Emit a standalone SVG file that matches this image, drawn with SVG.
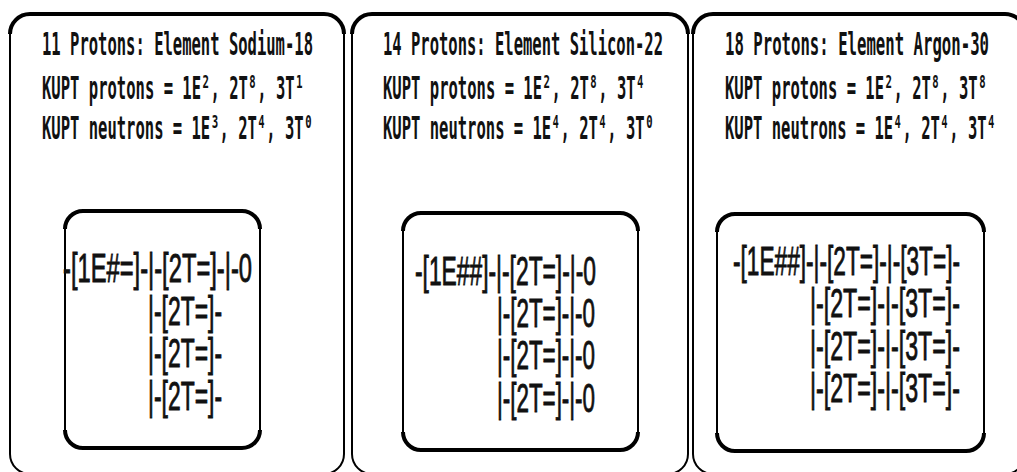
<svg xmlns="http://www.w3.org/2000/svg" width="1017" height="472" viewBox="0 0 1017 472">
<style>
.panel{fill:#fff;stroke:#000;stroke-width:2}
.toplip{fill:none;stroke:#000;stroke-width:4}
.box{fill:#fff;stroke:#000;stroke-width:2}
.boxedge{fill:none;stroke:#000;stroke-width:4}
.hdr{font-family:"DejaVu Sans Mono","Liberation Mono",monospace;font-size:32px;font-weight:bold;fill:#111}
.row{font-family:"Liberation Sans",Arial,sans-serif;font-size:40px;fill:#111;stroke:#111;stroke-width:0.9}
</style>
<rect width="1017" height="472" fill="#fff"/>
<g id="connectors"/>
<g id="panel-sodium">
<rect class="panel" x="10" y="14" width="334" height="460" rx="20"/>
<path class="toplip" d="M10,34 A20,20 0 0 1 30,14 H324 A20,20 0 0 1 344,34"/>
<text class="hdr" x="42" y="55" textLength="271" lengthAdjust="spacingAndGlyphs">11 Protons: Element Sodium-18</text>
<text class="hdr" x="42" y="99" textLength="262" lengthAdjust="spacingAndGlyphs">KUPT protons = 1E², 2T⁸, 3T¹</text>
<text class="hdr" x="42" y="139" textLength="271" lengthAdjust="spacingAndGlyphs">KUPT neutrons = 1E³, 2T⁴, 3T⁰</text>
<rect class="box" x="65" y="211" width="195" height="237" rx="18"/>
<path class="boxedge" d="M65,229 A18,18 0 0 1 83,211 H242 A18,18 0 0 1 260,229 M65,430 A18,18 0 0 0 83,448 H242 A18,18 0 0 0 260,430"/>
<text class="row" x="63" y="282" textLength="189" lengthAdjust="spacingAndGlyphs">-[1E#=]-|-[2T=]-|-0</text>
<text class="row" x="148" y="325" textLength="74" lengthAdjust="spacingAndGlyphs">|-[2T=]-</text>
<text class="row" x="148" y="367" textLength="74" lengthAdjust="spacingAndGlyphs">|-[2T=]-</text>
<text class="row" x="148" y="410" textLength="74" lengthAdjust="spacingAndGlyphs">|-[2T=]-</text>
</g>
<g id="panel-silicon">
<rect class="panel" x="352" y="14" width="336" height="460" rx="20"/>
<path class="toplip" d="M352,34 A20,20 0 0 1 372,14 H668 A20,20 0 0 1 688,34"/>
<text class="hdr" x="383" y="55" textLength="280" lengthAdjust="spacingAndGlyphs">14 Protons: Element Silicon-22</text>
<text class="hdr" x="383" y="99" textLength="262" lengthAdjust="spacingAndGlyphs">KUPT protons = 1E², 2T⁸, 3T⁴</text>
<text class="hdr" x="383" y="139" textLength="271" lengthAdjust="spacingAndGlyphs">KUPT neutrons = 1E⁴, 2T⁴, 3T⁰</text>
<rect class="box" x="403" y="213" width="235" height="237" rx="18"/>
<path class="boxedge" d="M403,231 A18,18 0 0 1 421,213 H620 A18,18 0 0 1 638,231 M403,432 A18,18 0 0 0 421,450 H620 A18,18 0 0 0 638,432"/>
<text class="row" x="415" y="285" textLength="181" lengthAdjust="spacingAndGlyphs">-[1E##]-|-[2T=]-|-0</text>
<text class="row" x="497" y="327" textLength="98" lengthAdjust="spacingAndGlyphs">|-[2T=]-|-0</text>
<text class="row" x="497" y="369" textLength="98" lengthAdjust="spacingAndGlyphs">|-[2T=]-|-0</text>
<text class="row" x="497" y="412" textLength="98" lengthAdjust="spacingAndGlyphs">|-[2T=]-|-0</text>
</g>
<g id="panel-argon">
<rect class="panel" x="693" y="14" width="332" height="460" rx="20"/>
<path class="toplip" d="M693,34 A20,20 0 0 1 713,14 H1005 A20,20 0 0 1 1025,34"/>
<text class="hdr" x="725" y="55" textLength="264" lengthAdjust="spacingAndGlyphs">18 Protons: Element Argon-30</text>
<text class="hdr" x="725" y="99" textLength="262" lengthAdjust="spacingAndGlyphs">KUPT protons = 1E², 2T⁸, 3T⁸</text>
<text class="hdr" x="725" y="139" textLength="271" lengthAdjust="spacingAndGlyphs">KUPT neutrons = 1E⁴, 2T⁴, 3T⁴</text>
<rect class="box" x="717" y="214" width="267" height="237" rx="18"/>
<path class="boxedge" d="M717,232 A18,18 0 0 1 735,214 H966 A18,18 0 0 1 984,232 M717,433 A18,18 0 0 0 735,451 H966 A18,18 0 0 0 984,433"/>
<text class="row" x="733" y="275" textLength="227" lengthAdjust="spacingAndGlyphs">-[1E##]-|-[2T=]-|-[3T=]-</text>
<text class="row" x="810" y="317" textLength="150" lengthAdjust="spacingAndGlyphs">|-[2T=]-|-[3T=]-</text>
<text class="row" x="810" y="360" textLength="150" lengthAdjust="spacingAndGlyphs">|-[2T=]-|-[3T=]-</text>
<text class="row" x="810" y="402" textLength="150" lengthAdjust="spacingAndGlyphs">|-[2T=]-|-[3T=]-</text>
</g>
</svg>
